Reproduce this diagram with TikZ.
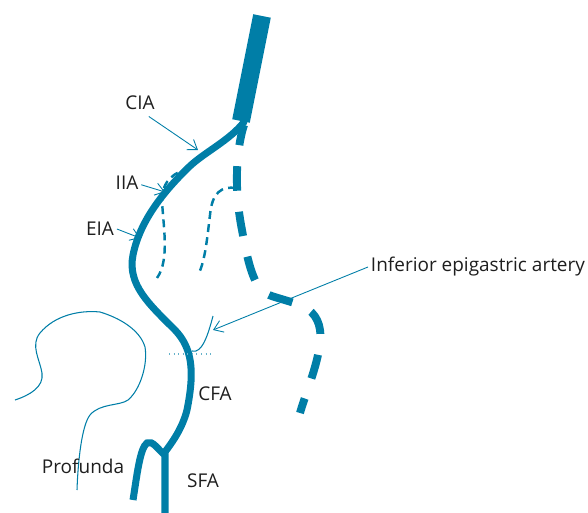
\documentclass[tikz,border=0pt]{standalone}
\usepackage{fontspec}
\setmainfont{Open Sans}
\usetikzlibrary{arrows.meta}
\definecolor{arterycol}{RGB}{0,126,167}
\definecolor{labeltext}{RGB}{30,30,30}
\tikzstyle{artery} = [draw=arterycol, line width=4pt, line cap=round]
\tikzstyle{branch} = [draw=arterycol, line width=4.5pt, dash pattern=on 14pt off 12pt, dash phase=2.2pt]
\tikzstyle{minor} = [draw=arterycol, line width=1.4pt, dash pattern=on 4.5pt off 3pt]
\tikzstyle{outline} = [draw=arterycol, line width=0.6pt]
\tikzstyle{leader} = [draw=arterycol, line width=0.5pt, -{Straight Barb[length=5pt,width=7pt]}]
\tikzstyle{lbl} = [text=labeltext, font=\fontsize{10.8}{13}\selectfont, inner sep=1.5pt]

\begin{document}
\begin{tikzpicture}[x=0.02cm, y=-0.02cm]
\useasboundingbox (0,0) rectangle (588,513);

% aorta
\draw[draw=arterycol, line width=10.2pt] (262,16) -- (241,121);
% common and external iliac down to the femoral
\draw[artery] (244,122) .. controls (230,140) and (205,152) .. (190,166)
  .. controls (165,190) and (140,220) .. (133,255)
  .. controls (127,285) and (150,305) .. (175,330)
  .. controls (192,348) and (195,370) .. (187,410)
  .. controls (182,430) and (170,445) .. (165,452) -- (165,513);
% profunda
\draw[artery, line cap=butt] (165,455) .. controls (158,450) and (153,440) .. (147,443)
  .. controls (140,448) and (137,475) .. (133,500);
% other side, dashed
\draw[branch] (244,125) .. controls (236,150) and (234,190) .. (242,230)
  .. controls (247,258) and (252,280) .. (262,291)
  .. controls (268,297) and (290,300) .. (304,307)
  .. controls (316,313) and (322,325) .. (320,342)
  .. controls (318,365) and (305,395) .. (300,413);
% internal iliac branches
\draw[minor] (190,168) .. controls (175,172) and (162,180) .. (162,200)
  .. controls (163,225) and (170,260) .. (157,278);
\draw[minor] (236,188) .. controls (222,186) and (212,192) .. (210,215)
  .. controls (207,240) and (205,260) .. (199,273);
% inferior epigastric
\draw[outline] (213,316) .. controls (208,335) and (202,354) .. (192,351);
\draw[draw=arterycol!60, line width=0.6pt, dotted] (169,354) -- (212,354);
% femoral head
\draw[outline] (15,400) .. controls (30,395) and (44,387) .. (42,373)
  .. controls (40,360) and (30,345) .. (40,333)
  .. controls (55,315) and (80,310) .. (100,312)
  .. controls (120,318) and (140,330) .. (145,347)
  .. controls (148,365) and (140,390) .. (128,400)
  .. controls (120,406) and (100,403) .. (90,415)
  .. controls (82,425) and (78,460) .. (77,490);

\node (cia) [lbl] at (140,103) {CIA};
\node (iia) [lbl] at (127,183) {IIA};
\node (eia) [lbl] at (100,229) {EIA};
\node (iea) [lbl, anchor=west] at (368,267) {Inferior epigastric artery};
\node (cfa) [lbl] at (215,394) {CFA};
\node (pfa) [lbl] at (83,466) {Profunda};
\node (sfa) [lbl] at (203,481) {SFA};

\coordinate (ciaend) at (198,150);
\coordinate (iiaend) at (165,192);
\coordinate (eiaend) at (140,238);
\coordinate (ieaend) at (213,330);

\draw[leader] ([xshift=5pt,yshift=-2pt]cia.south) -- (ciaend);
\draw[leader] ([yshift=-1pt]iia.east) -- (iiaend);
\draw[leader] (eia.east) -- (eiaend);
\draw[leader] (iea.west) -- (ieaend);
\end{tikzpicture}
\end{document}
